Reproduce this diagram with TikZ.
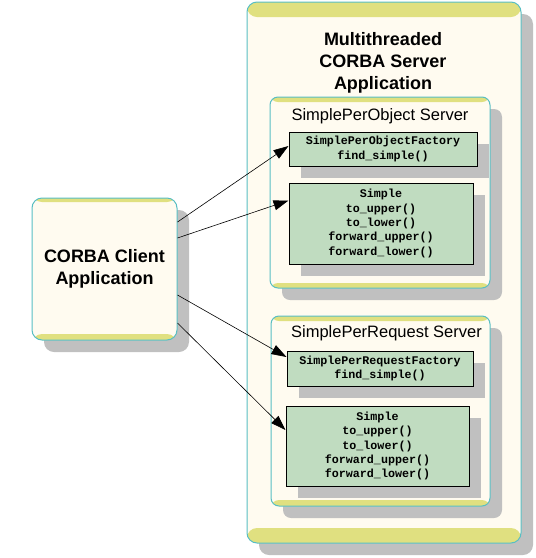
\documentclass[tikz,border=0pt]{standalone}
\usepackage{fontspec}
\setmainfont{Liberation Sans}
\setmonofont{Liberation Mono}
\usetikzlibrary{arrows.meta,shadows}
\definecolor{cream}{RGB}{255,251,240}
\definecolor{bandc}{RGB}{224,224,128}
\definecolor{edgec}{RGB}{88,190,196}
\definecolor{shadc}{RGB}{192,192,192}
\definecolor{greenc}{RGB}{192,220,192}
\tikzset{
  banded/.style 2 args={path picture={
    \fill[bandc] (path picture bounding box.north west) rectangle ([yshift=-#1]path picture bounding box.north east);
    \fill[bandc] ([yshift=#2]path picture bounding box.south west) rectangle (path picture bounding box.south east);}},
  appbox/.style={rectangle, draw=edgec, line width=1pt, fill=cream, inner sep=0pt,
    drop shadow={shadow xshift=12pt, shadow yshift=-12pt, fill=shadc, opacity=1}},
  codebox/.style={rectangle, draw=black, line width=1pt, fill=greenc, inner sep=0pt, align=center,
    font=\ttfamily\bfseries\fontsize{11.7}{14.3}\selectfont,
    drop shadow={shadow xshift=12pt, shadow yshift=-12pt, fill=shadc, opacity=1}},
  conn/.style={draw=black, line width=0.6pt, -{Triangle[length=15pt,width=10pt]}},
  bigtext/.style={font=\bfseries\fontsize{18}{22}\selectfont, align=center},
  srvtext/.style={font=\fontsize{16.5}{20}\selectfont, anchor=base}
}
\begin{document}
\begin{tikzpicture}[x=1pt,y=-1pt]
\useasboundingbox (0,0) rectangle (536,558);
% server application
\node[appbox, rounded corners=10pt, banded={15pt}{15pt}, minimum width=274pt, minimum height=541pt] (server) at (384,272.5) {};
\node[bigtext] (title) at (383,63) {Multithreaded\\CORBA Server\\Application};
% per-object server
\node[appbox, rounded corners=8pt, banded={5pt}{5pt}, minimum width=220pt, minimum height=191pt] (objsrv) at (380,192.5) {};
\node[srvtext] (objlbl) at (380,120) {SimplePerObject Server};
\node[codebox, minimum width=188pt, minimum height=34pt] (f1) at (383,149) {SimplePerObjectFactory\\find\_simple()};
\node[codebox, minimum width=184pt, minimum height=81pt] (s1) at (381,223.5) {Simple\\to\_upper()\\to\_lower()\\forward\_upper()\\forward\_lower()};
% per-request server
\node[appbox, rounded corners=8pt, banded={5pt}{6pt}, minimum width=219pt, minimum height=190pt] (reqsrv) at (380.5,411) {};
\node[srvtext] (reqlbl) at (386.5,337) {SimplePerRequest Server};
\node[codebox, minimum width=186pt, minimum height=35pt] (f2) at (380,368.5) {SimplePerRequestFactory\\find\_simple()};
\node[codebox, minimum width=183pt, minimum height=80pt] (s2) at (377.5,446) {Simple\\to\_upper()\\to\_lower()\\forward\_upper()\\forward\_lower()};
% client
\node[appbox, rounded corners=10pt, banded={4pt}{6pt}, minimum width=145pt, minimum height=142pt, bigtext] (client) at (104.5,269) {CORBA Client\\Application};
% connectors
\draw[conn] ([yshift=47pt]client.east) -- ([yshift=3pt]f1.west);
\draw[conn] ([yshift=31pt]client.east) -- ([yshift=23pt]s1.west);
\draw[conn] ([yshift=-26pt]client.east) -- ([yshift=11.5pt]f2.west);
\draw[conn] ([yshift=-54pt]client.east) -- ([yshift=16pt]s2.west);
\end{tikzpicture}
\end{document}
